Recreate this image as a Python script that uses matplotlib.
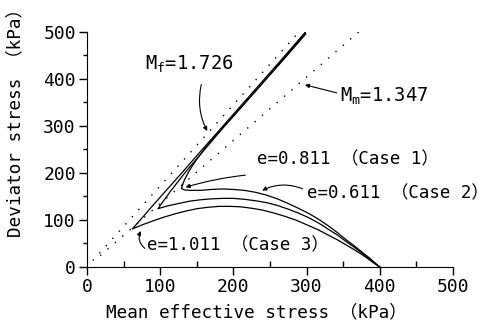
import numpy as np
import matplotlib
matplotlib.use("Agg")
import matplotlib.pyplot as plt
from matplotlib.ticker import MultipleLocator

plt.rcParams['font.family'] = ['DejaVu Sans Mono', 'Noto Sans CJK JP']

# Stress paths (p', q) in kPa
case1_p = [400, 394, 386, 377, 366, 354, 343, 332, 318, 304, 290, 275, 260, 245, 230,
           215, 200, 185, 170, 155, 142, 133, 129,
           131, 134, 138, 143, 149, 156, 164, 174, 186, 200, 220, 245, 270, 299]
case1_q = [0, 8, 19, 30, 44, 58, 72, 85, 100, 113, 124, 135, 145, 153, 159,
           163, 165, 166, 165, 163, 163, 164, 167,
           177, 188, 200, 213, 227, 242, 258, 276, 297, 321, 356, 400, 444, 496]

case2_p = [400, 394, 386, 377, 366, 354, 343, 332, 318, 304, 290, 275, 260, 245, 230,
           215, 200, 185, 170, 155, 140, 125, 110, 97,
           101, 107, 114, 122, 131, 141, 152, 164, 177, 192, 210, 230, 255, 280, 298]
case2_q = [0, 7, 17, 28, 41, 54, 67, 78, 92, 104, 114, 123, 131, 137, 141,
           144, 146, 146, 145, 143, 140, 135, 130, 124,
           133, 146, 161, 177, 195, 214, 234, 256, 280, 307, 339, 374, 419, 464, 498]

case3_p = [400, 394, 386, 377, 366, 354, 343, 332, 316, 300, 285, 270, 255, 240, 225,
           210, 195, 180, 165, 150, 135, 120, 105, 90, 76, 62,
           75, 90, 110, 130, 150, 170, 200, 230, 260, 298]
case3_q = [0, 6, 15, 25, 36, 47, 57, 66, 79, 90, 100, 108, 115, 121, 125,
           128, 129, 129, 127, 124, 119, 113, 106, 98, 90, 81,
           104, 131, 166, 201, 237, 272, 325, 378, 431, 499]

# Failure / phase transformation lines
M_f = 1.726
M_m = 1.347
mf_p = np.array([8, 290])
mm_p = np.array([18, 371])

fig = plt.figure(figsize=(4.91, 3.26), dpi=100)
ax = fig.add_axes([0.1772, 0.181, 0.7454, 0.7209])

dots = (0, (1, 6))
ax.plot(mf_p, M_f * mf_p, color="k", lw=1.0, ls=dots)
ax.plot(mm_p, M_m * mm_p, color="k", lw=1.0, ls=dots)

for ps, qs in [(case1_p, case1_q), (case2_p, case2_q), (case3_p, case3_q)]:
    ax.plot(ps, qs, color="k", lw=0.9)

ax.set_xlim(0, 500)
ax.set_ylim(0, 500)
for side in ["top", "right"]:
    ax.spines[side].set_visible(False)
ax.xaxis.set_major_locator(MultipleLocator(100))
ax.xaxis.set_minor_locator(MultipleLocator(50))
ax.yaxis.set_major_locator(MultipleLocator(100))
ax.yaxis.set_minor_locator(MultipleLocator(50))
ax.tick_params(which="major", direction="out", length=6, width=1, labelsize=13, pad=2)
ax.tick_params(which="minor", direction="out", length=3, width=1)
ax.tick_params(axis="x", which="minor", direction="in", length=4)

ax.set_xlabel("Mean effective stress （kPa）", fontsize=12.7)
ax.set_ylabel("Deviator stress （kPa）", fontsize=12.7)
ax.xaxis.set_label_coords(0.464, -0.153)
ax.yaxis.set_label_coords(-0.172, 0.63)

arrow = dict(arrowstyle="-|>", color="k", lw=0.8, mutation_scale=6)

# Labels and leaders
ax.text(79, 432, "M$_{\\mathregular{f}}$=1.726", fontsize=13.5, va="center", ha="left")
ax.annotate("", xy=(166, 284), xytext=(157, 394),
            arrowprops=dict(arrow, connectionstyle="arc3,rad=0.2"))

ax.text(346, 362, "M$_{\\mathregular{m}}$=1.347", fontsize=13.5, va="center", ha="left")
ax.annotate("", xy=(294, 389), xytext=(345, 369), arrowprops=dict(arrow))

ax.text(232, 228, "e=0.811 （Case 1）", fontsize=12.5, va="center", ha="left")
ax.annotate("", xy=(131, 168), xytext=(220, 196),
            arrowprops=dict(arrow, connectionstyle="arc3,rad=0.05"))

ax.text(300, 157, "e=0.611 （Case 2）", fontsize=12.5, va="center", ha="left")
ax.annotate("", xy=(236, 160), xytext=(298, 164),
            arrowprops=dict(arrow, connectionstyle="arc3,rad=0.25"))

ax.text(82, 47, "e=1.011 （Case 3）", fontsize=12.5, va="center", ha="left")
ax.annotate("", xy=(75, 82), xytext=(82, 36),
            arrowprops=dict(arrow, connectionstyle="arc3,rad=-0.45"))

fig.savefig("out.png", dpi=100)
